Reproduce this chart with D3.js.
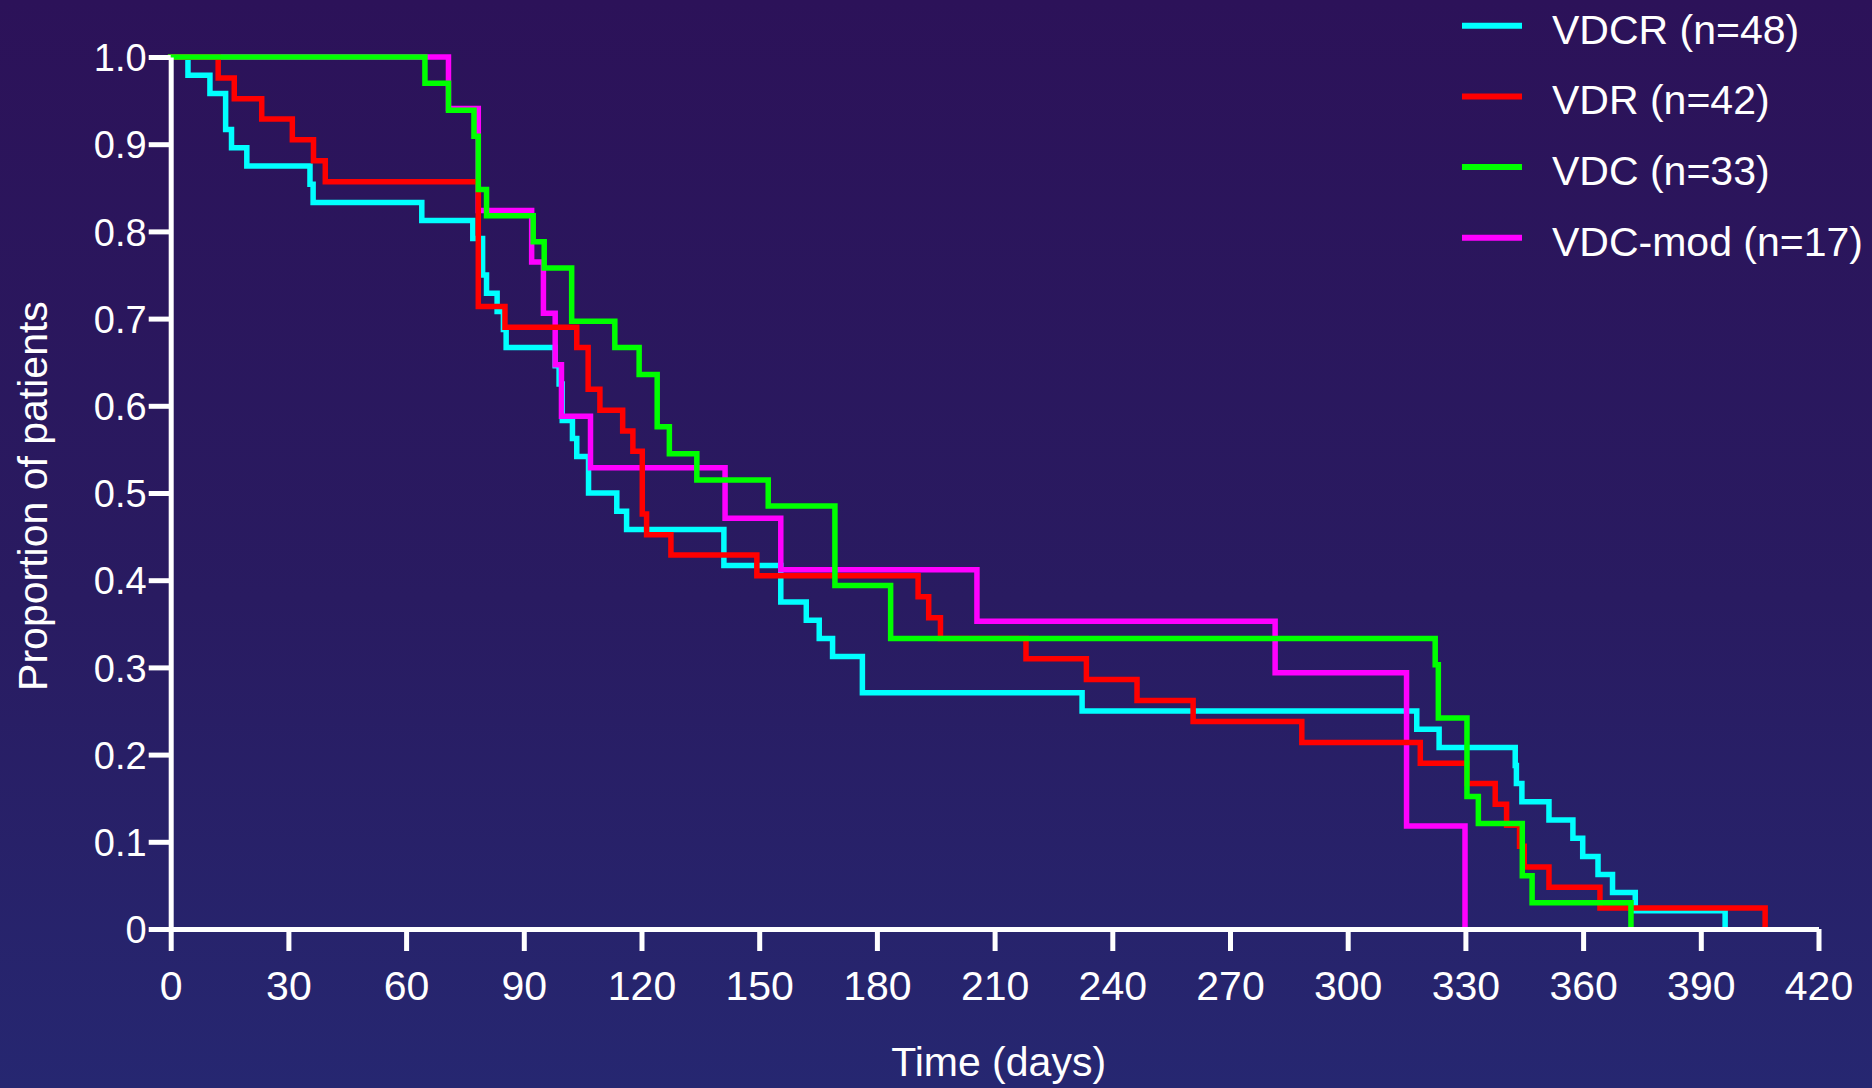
<!DOCTYPE html>
<html>
<head>
<meta charset="utf-8">
<script src="https://cdn.jsdelivr.net/npm/d3@7"></script>
<style>
  html, body { margin: 0; padding: 0; background: #27206a; }
  svg { display: block; }
  text { font-family: "Liberation Sans", Arial, sans-serif; fill: #ffffff; }
</style>
</head>
<body>
<svg id="chart"></svg>
<script>
// Kaplan-Meier step data (day of event, proportion after it)
const vdcrDays = [0, 4.4, 10, 14, 15.5, 19.4, 35.5, 36.3, 64, 77, 79.5, 80.5, 83.2, 84.8, 85.5, 98, 99, 99.8, 102.4, 103.5, 106.5, 113.7, 116.2, 141, 155.5, 162, 165.3, 168.7, 176.3, 232.3, 317.6, 323.3, 342.7, 343, 344.4, 351.3, 357.4, 359.9, 363.8, 367.5, 373.3, 396.2]
const vdcrSurv = [1, 0.979, 0.958, 0.917, 0.896, 0.875, 0.854, 0.833, 0.8125, 0.792, 0.75, 0.729, 0.708, 0.6875, 0.667, 0.646, 0.625, 0.583, 0.5625, 0.542, 0.5, 0.479, 0.458, 0.417, 0.375, 0.354, 0.333, 0.3125, 0.271, 0.25, 0.229, 0.208, 0.1875, 0.167, 0.146, 0.125, 0.104, 0.083, 0.0625, 0.042, 0.021, 0]

const vdrDays = [0, 12.1, 16.2, 23.2, 31, 36.4, 39.4, 78.4, 85.2, 103.5, 106.4, 109.4, 115.2, 117.8, 120.2, 121.3, 127.5, 149.4, 190.5, 193.2, 196.2, 218, 233.4, 246.3, 260.6, 288.3, 318.5, 330.4, 337.6, 340.5, 343.8, 345, 351.3, 364.3, 406.4]
const vdrSurv = [1, 0.976, 0.952, 0.929, 0.905, 0.881, 0.857, 0.714, 0.690, 0.667, 0.619, 0.595, 0.571, 0.548, 0.476, 0.452, 0.429, 0.405, 0.381, 0.357, 0.333, 0.310, 0.286, 0.262, 0.238, 0.214, 0.190, 0.167, 0.143, 0.119, 0.095, 0.071, 0.048, 0.024, 0]

const vdcDays = [0, 64.8, 70.8, 77.3, 78.4, 80.5, 92.4, 95.2, 102.2, 113.2, 119.4, 124, 127.1, 134.1, 152.3, 169.3, 183.5, 322.3, 323.1, 330.4, 333.3, 344.5, 347, 372.2]
const vdcSurv = [1, 0.970, 0.939, 0.909, 0.848, 0.818, 0.788, 0.758, 0.697, 0.667, 0.636, 0.576, 0.545, 0.515, 0.485, 0.394, 0.333, 0.303, 0.242, 0.152, 0.121, 0.061, 0.030, 0]

const modDays = [0, 70.8, 78.4, 92, 95, 98, 99.6, 107, 141.3, 155.5, 205.5, 281.5, 315, 329.9]
const modSurv = [1, 0.941, 0.824, 0.765, 0.706, 0.647, 0.588, 0.529, 0.471, 0.412, 0.353, 0.294, 0.118, 0]

const seriesNames = ['VDCR (n=48)', 'VDR (n=42)', 'VDC (n=33)', 'VDC-mod (n=17)']
const seriesColors = ['#00ffff', '#ff0000', '#00ff00', '#ff00ff']

const xTicks = [0, 30, 60, 90, 120, 150, 180, 210, 240, 270, 300, 330, 360, 390, 420]
const yTicks = [0, 0.1, 0.2, 0.3, 0.4, 0.5, 0.6, 0.7, 0.8, 0.9, 1.0]

const W = 1872, H = 1088
const svg = d3.select('#chart').attr('width', W).attr('height', H)

// background gradient: purple at top fading to navy
const defs = svg.append('defs')
const grad = defs.append('linearGradient')
  .attr('id', 'bg').attr('x1', 0).attr('y1', 0).attr('x2', 0).attr('y2', 1)
grad.append('stop').attr('offset', '0%').attr('stop-color', '#2c1259')
grad.append('stop').attr('offset', '55%').attr('stop-color', '#291b61')
grad.append('stop').attr('offset', '100%').attr('stop-color', '#262771')
svg.append('rect').attr('width', W).attr('height', H).attr('fill', 'url(#bg)')

const xScale = d3.scaleLinear().domain([0, 420]).range([170.7, 1818.5])
const yScale = d3.scaleLinear().domain([0, 1]).range([929, 57])

const series = [
  { days: vdcrDays, surv: vdcrSurv, color: seriesColors[0] },
  { days: modDays, surv: modSurv, color: seriesColors[3] },
  { days: vdrDays, surv: vdrSurv, color: seriesColors[1] },
  { days: vdcDays, surv: vdcSurv, color: seriesColors[2] }
]

const line = d3.line()
  .x((d) => xScale(d[0]))
  .y((d) => yScale(d[1]))
  .curve(d3.curveStepAfter)

svg.append('g')
  .selectAll('path')
  .data(series)
  .enter()
  .append('path')
  .attr('d', (s) => line(s.days.map((t, i) => [t, s.surv[i]])))
  .attr('fill', 'none')
  .attr('stroke', (s) => s.color)
  .attr('stroke-width', 5.5)
  .attr('stroke-linejoin', 'miter')
  .attr('stroke-linecap', 'square')

// axes
const xAxis = d3.axisBottom(xScale)
  .tickValues(xTicks)
  .tickSize(22)
  .tickSizeOuter(0)
  .tickPadding(20)
  .tickFormat((d) => d)

const yAxis = d3.axisLeft(yScale)
  .tickValues(yTicks)
  .tickSize(22)
  .tickSizeOuter(0)
  .tickPadding(2)
  .tickFormat((d) => (d === 0 ? '0' : d.toFixed(1)))

const gx = svg.append('g')
  .attr('transform', `translate(0, ${yScale(0)})`)
  .call(xAxis)

const gy = svg.append('g')
  .attr('transform', `translate(${xScale(0)}, 0)`)
  .call(yAxis)

;[gx, gy].forEach((g) => {
  g.select('.domain').attr('stroke', '#ffffff').attr('stroke-width', 5)
  g.selectAll('.tick line').attr('stroke', '#ffffff').attr('stroke-width', 5)
  g.selectAll('.tick text')
    .attr('fill', '#ffffff')
    .style('font-size', '41px')
    .style('font-family', '"Liberation Sans", Arial, sans-serif')
})
gy.selectAll('.tick text').attr('dy', '0.36em').style('font-size', '38px')

// axis titles
svg.append('text')
  .attr('x', (xScale(0) + xScale(420)) / 2 + 4)
  .attr('y', 1076)
  .attr('text-anchor', 'middle')
  .style('font-size', '41px')
  .text('Time (days)')

svg.append('text')
  .attr('transform', `translate(47, ${(yScale(0) + yScale(1)) / 2 + 3}) rotate(-90)`)
  .attr('text-anchor', 'middle')
  .style('font-size', '41px')
  .text('Proportion of patients')

// legend
const legend = svg.append('g').attr('transform', 'translate(1462, 25.7)')
const items = legend.selectAll('g')
  .data(seriesNames)
  .enter()
  .append('g')
  .attr('transform', (d, i) => `translate(0, ${i * 70.7})`)

items.append('line')
  .attr('x1', 0).attr('x2', 60)
  .attr('y1', 0).attr('y2', 0)
  .attr('stroke', (d, i) => seriesColors[i])
  .attr('stroke-width', 6)

items.append('text')
  .attr('x', 90)
  .attr('y', 18)
  .style('font-size', '41px')
  .text((d) => d)
</script>
</body>
</html>
